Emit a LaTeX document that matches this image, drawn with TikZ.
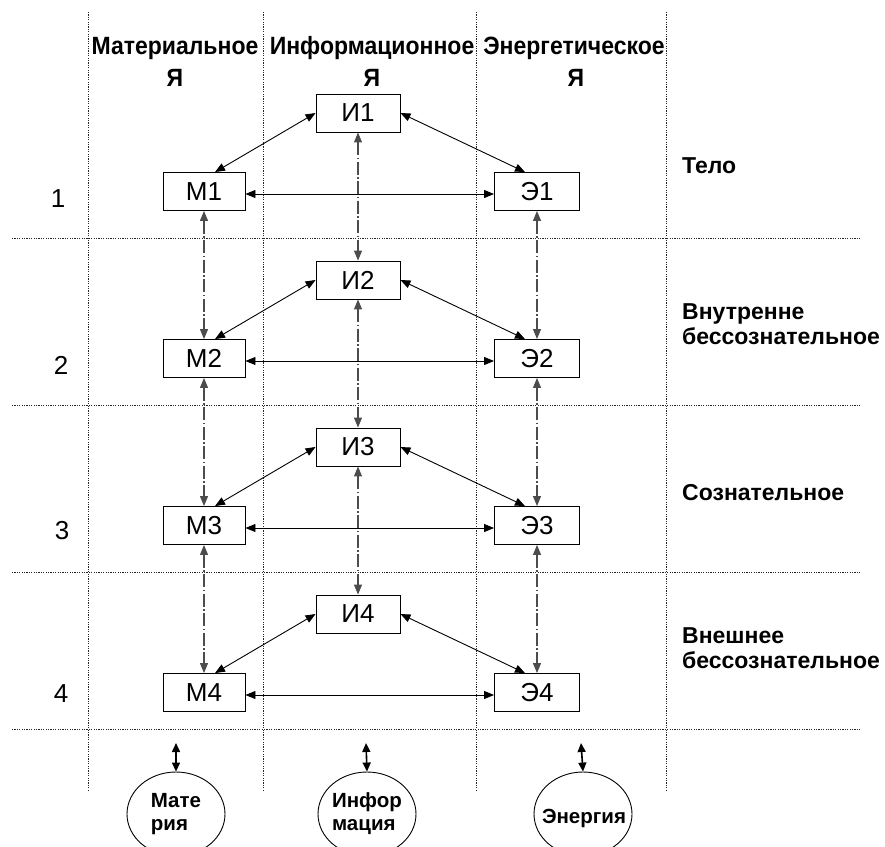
\documentclass[tikz,border=0pt]{standalone}
\usepackage{fontspec}
\setmainfont{Liberation Sans}
\newfontfamily\narrowsans[FakeStretch=0.92]{Liberation Sans}
\usetikzlibrary{arrows.meta,shapes.geometric}
\begin{document}
\begin{tikzpicture}[x=1pt,y=-1pt,
  gridline/.style={line width=0.8pt, black!85, dash pattern=on 1.2pt off 1.2pt},
  unit/.style={draw, line width=0.9pt, minimum width=84pt, minimum height=38pt,
    inner sep=0pt, font=\fontsize{26}{26}\selectfont},
  head/.style={font=\narrowsans\bfseries\fontsize{25}{25}\selectfont, inner sep=0pt},
  level/.style={font=\bfseries\fontsize{23}{25}\selectfont, align=left, anchor=west, inner sep=0pt},
  rownum/.style={font=\fontsize{26}{26}\selectfont, inner sep=0pt},
  source/.style={draw, ellipse, line width=0.9pt, minimum width=98pt, minimum height=84pt, inner sep=0pt},
  sourcetext/.style={inner sep=0pt, align=left, font=\bfseries\fontsize{20.5}{23}\selectfont},
  link/.style={{Triangle[length=10pt,width=8pt]}-{Triangle[length=10pt,width=8pt]}, line width=0.9pt},
  chain/.style={{Triangle[length=10pt,width=8pt]}-{Triangle[length=10pt,width=8pt]}, line width=1.1pt,
    black!70, dash pattern=on 13pt off 2.5pt on 1.5pt off 2.5pt},
  feed/.style={{Triangle[length=9pt,width=8pt]}-{Triangle[length=9pt,width=8pt]}, line width=1.6pt}]
\useasboundingbox (0,0) rectangle (885,846);

% grid
\foreach \x in {88,263,476,666} \draw[gridline] (\x,12) -- (\x,790);
\foreach \y in {238,405,572,729} \draw[gridline] (12,\y) -- (861,\y);

% column headers
\node[head] (hM) at (175,48) {Материальное};
\node[head] (hMy) at (175,78) {Я};
\node[head] (hI) at (372,48) {Информационное};
\node[head] (hIy) at (372,78) {Я};
\node[head] (hE) at (574,48) {Энергетическое};
\node[head] (hEy) at (576,78) {Я};

% level labels
\node[level] (l1) at (682,166) {Тело};
\node[level] (l2) at (682,324) {Внутренне\\бессознательное};
\node[level] (l3) at (682,493) {Сознательное};
\node[level] (l4) at (682,648) {Внешнее\\бессознательное};

% row numbers
\node[rownum] (n1) at (58,199) {1};
\node[rownum] (n2) at (61,365) {2};
\node[rownum] (n3) at (62,531) {3};
\node[rownum] (n4) at (61,694) {4};

% units
\foreach \k in {1,2,3,4} {
  \pgfmathsetmacro{\yi}{113+167*(\k-1)}
  \pgfmathsetmacro{\ym}{191.5+167*(\k-1)}
  \node[unit] (I\k) at (358,\yi) {И\k};
  \node[unit, minimum width=82pt] (M\k) at (204,\ym) {М\k};
  \node[unit, minimum width=85pt] (E\k) at (537,\ym) {Э\k};
  \draw[link] (I\k.west) -- ([xshift=11pt]M\k.north);
  \draw[link] (I\k.east) -- ([xshift=-12pt]E\k.north);
  \draw[link] ([yshift=-2.5pt]M\k.east) -- ([yshift=-2.5pt]E\k.west);
}
\foreach \a/\b in {1/2,2/3,3/4} {
  \draw[chain] (M\a.south) -- (M\b.north);
  \draw[chain] (I\a.south) -- (I\b.north);
  \draw[chain] (E\a.south) -- (E\b.north);
}

% sources
\node[source] (sM) at (176,814) {};
\node[source] (sI) at (367,814) {};
\node[source] (sE) at (583,814) {};
\node[sourcetext] (sMt) at (176,814) {Мате\\рия};
\node[sourcetext] (sIt) at (367,814) {Инфор\\мация};
\node[sourcetext] (sEt) at (584,818) {Энергия};
\coordinate (tM) at (176,743);
\coordinate (tI) at (366,743);
\coordinate (tE) at (581,743);
\draw[feed] (tM) -- (sM.north);
\draw[feed] (tI) -- (sI.north);
\draw[feed] (tE) -- (sE.north);
\end{tikzpicture}
\end{document}
